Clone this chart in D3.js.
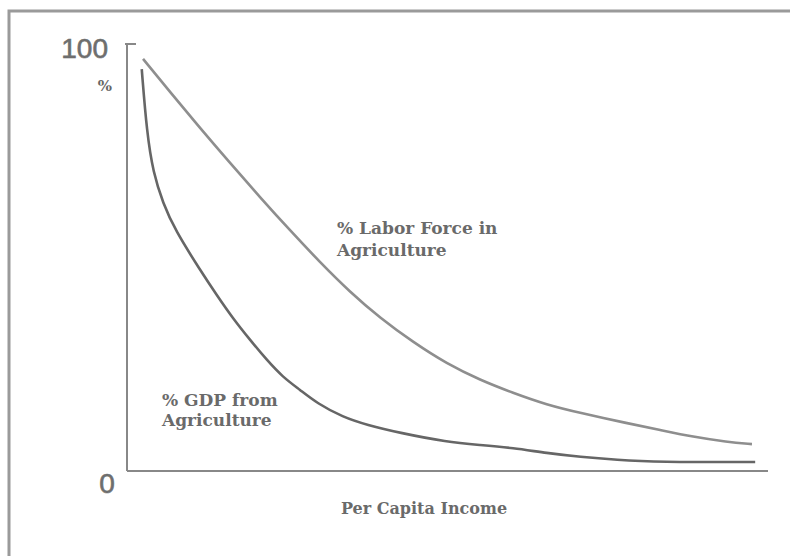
<!DOCTYPE html>
<html>
<head>
<meta charset="utf-8">
<script src="https://cdn.jsdelivr.net/npm/d3@7"></script>
<style>
  body { margin: 0; background: #fff; }
  svg { display: block; }
</style>
</head>
<body>
<div class="container"></div>
<script>
// values: income on a 0-100 scale, share in %
const laborIncome = [2.5, 6.7, 11.4, 16.1, 20.7, 25.4, 30.1, 34.8, 39.5, 44.6, 49.9, 55.1, 60.2, 65.5, 70.7, 78.0, 83.2, 88.3, 93.6, 97.5];
const laborShare = [96.5, 88.8, 80.3, 72.1, 64.2, 56.4, 48.9, 41.9, 35.8, 30.2, 25.1, 21.3, 18.3, 15.5, 13.6, 11.2, 9.6, 8.0, 6.8, 6.3];

const gdpIncome = [2.3, 3.1, 4.1, 5.6, 7.5, 11.4, 14.0, 16.5, 19.2, 21.8, 24.3, 27.0, 29.6, 33.7, 37.4, 42.6, 49.9, 55.1, 60.2, 65.5, 70.7, 76.4, 82.7, 98.0];
const gdpShare = [94.1, 79.2, 69.8, 62.8, 56.4, 47.1, 41.2, 35.8, 30.7, 26.0, 22.0, 19.0, 15.9, 12.6, 10.8, 8.9, 6.8, 6.1, 5.4, 4.2, 3.3, 2.6, 2.1, 2.1];

const yTickLabels = ['0', '100'];
const labelLabor = ['% Labor Force in', 'Agriculture'];
const labelGdp = ['% GDP from', 'Agriculture'];
const xTitle = 'Per Capita Income';
const yTitle = '%';

const W = 790;
const H = 556;
const serif = '"DejaVu Serif", "Liberation Serif", serif';

const svg = d3.select('.container')
  .append('svg')
  .attr('width', W)
  .attr('height', H);

// open frame (image was cropped on the right and bottom)
svg.append('path')
  .attr('d', `M9,${H} L9,11 L${W},11`)
  .attr('fill', 'none')
  .attr('stroke', '#9a9a9a')
  .attr('stroke-width', 3);

const x = d3.scaleLinear().domain([0, 100]).range([127, 768]);
const y = d3.scaleLinear().domain([0, 100]).range([471, 44]);

// axes
svg.append('line')
  .attr('x1', x(0)).attr('x2', x(0))
  .attr('y1', y(100)).attr('y2', y(0))
  .attr('stroke', '#888').attr('stroke-width', 2);

svg.append('line')
  .attr('x1', x(0) - 2).attr('x2', x(0) + 9)
  .attr('y1', y(100)).attr('y2', y(100))
  .attr('stroke', '#888').attr('stroke-width', 2);

svg.append('line')
  .attr('x1', x(0)).attr('x2', x(100))
  .attr('y1', y(0)).attr('y2', y(0))
  .attr('stroke', '#888').attr('stroke-width', 2);

// tick labels: 100 next to the tick, 0 sits below the corner
svg.append('text')
  .attr('x', x(0) - 19)
  .attr('y', y(100) + 14)
  .attr('text-anchor', 'end')
  .attr('font-family', '"Liberation Sans", Arial, sans-serif')
  .attr('font-size', 28)
  .attr('fill', '#6e6e6e')
  .attr('stroke', '#6e6e6e')
  .attr('stroke-width', 0.6)
  .text(yTickLabels[1]);

svg.append('text')
  .attr('x', x(0) - 20)
  .attr('y', y(0) + 22)
  .attr('text-anchor', 'middle')
  .attr('font-family', '"Liberation Sans", Arial, sans-serif')
  .attr('font-size', 28)
  .attr('fill', '#6e6e6e')
  .attr('stroke', '#6e6e6e')
  .attr('stroke-width', 0.6)
  .text(yTickLabels[0]);

svg.append('text')
  .attr('x', 105)
  .attr('y', 91)
  .attr('text-anchor', 'middle')
  .attr('font-family', serif)
  .attr('font-weight', 'bold')
  .attr('font-size', 15)
  .attr('fill', '#666')
  .text(yTitle);

// curves, smoothed like the hand-drawn original
const line = d3.line()
  .x(d => x(d[0]))
  .y(d => y(d[1]))
  .curve(d3.curveBasis);

const laborData = d3.zip(laborIncome, laborShare);
const gdpData = d3.zip(gdpIncome, gdpShare);

svg.append('path')
  .datum(laborData)
  .attr('d', line)
  .attr('fill', 'none')
  .attr('stroke', '#8e8e8e')
  .attr('stroke-width', 2.6);

svg.append('path')
  .datum(gdpData)
  .attr('d', line)
  .attr('fill', 'none')
  .attr('stroke', '#666')
  .attr('stroke-width', 2.6);

// curve labels
function multiLine(lines, x0, y0, lh) {
  const t = svg.append('text')
    .attr('font-family', serif)
    .attr('font-weight', 'bold')
    .attr('font-size', 17)
    .attr('fill', '#6a6a6a');
  t.selectAll('tspan')
    .data(lines)
    .enter()
    .append('tspan')
    .attr('x', x0)
    .attr('y', (d, i) => y0 + i * lh)
    .text(d => d);
}

multiLine(labelLabor, 337, 234, 22);
multiLine(labelGdp, 162, 406, 20);

svg.append('text')
  .attr('x', 424)
  .attr('y', 514)
  .attr('text-anchor', 'middle')
  .attr('font-family', serif)
  .attr('font-weight', 'bold')
  .attr('font-size', 16)
  .attr('fill', '#6a6a6a')
  .text(xTitle);
</script>
</body>
</html>
